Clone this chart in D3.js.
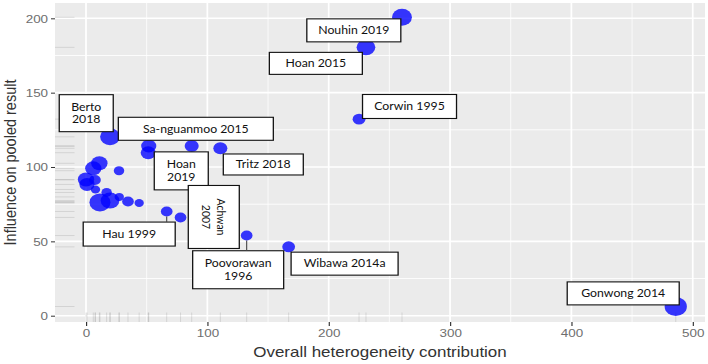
<!DOCTYPE html>
<html><head><meta charset="utf-8">
<script src="https://cdn.jsdelivr.net/npm/d3@7"></script>
<style>body{margin:0;background:#fff}svg{display:block}</style>
</head><body>
<script>
// ---- data ----
const studies = ["Nouhin 2019","Hoan 2015","Corwin 1995","Berto 2018","Sa-nguanmoo 2015","","Hoan 2019","Tritz 2018",
  "","","","","","","","","","","","","","Hau 1999","Achwan 2007","Poovorawan 1996","Wibawa 2014a","Gonwong 2014"];
const heterogeneity = [260.4,230.7,225.0,19.8,51.7,51.3,87.1,110.7,
  6.0,11.0,27.2,0.0,0.8,7.4,7.8,17.0,11.5,19.8,27.4,34.6,43.8,66.5,77.9,132.4,167.0,486.0];
const influence = [200.7,180.5,132.2,120.3,114.1,109.6,114.1,112.6,
  99.1,102.5,97.5,91.6,88.3,91.3,84.9,82.9,76.2,77.4,79.9,76.8,75.8,70.1,66.1,53.9,46.3,6.2];
const weight = [72,64,30,72,42,42,36,36,
  49,49,20,49,42,25,16,20,81,64,16,25,16,25,25,25,30,90];
const xTicks = [0,100,200,300,400,500];
const yTicks = [0,50,100,150,200];
const xMinor = [50,150,250,350,450];
const yMinor = [25,75,125,175];

// ---- label layout (annotation placement) ----
const labelLayout = [
  {name:"Nouhin 2019", lines:["Nouhin 2019"], cx:220.7, cy:191.9, w:94, h:23},
  {name:"Hoan 2015", lines:["Hoan 2015"], cx:189.4, cy:169.7, w:93, h:22},
  {name:"Corwin 1995", lines:["Corwin 1995"], cx:266.6, cy:140.7, w:94, h:24},
  {name:"Berto 2018", lines:["Berto","2018"], cx:0.2, cy:136.2, w:54, h:37},
  {name:"Sa-nguanmoo 2015", lines:["Sa-nguanmoo 2015"], cx:90.5, cy:125.7, w:155, h:23},
  {name:"Hoan 2019", lines:["Hoan","2019"], cx:78.5, cy:97.4, w:54, h:38},
  {name:"Tritz 2018", lines:["Tritz 2018"], cx:146.1, cy:101.7, w:80, h:21},
  {name:"Achwan 2007", lines:["Achwan","2007"], cx:105.3, cy:66.4, w:51, h:63, rot:true},
  {name:"Hau 1999", lines:["Hau 1999"], cx:35.6, cy:54.9, w:92, h:24},
  {name:"Poovorawan 1996", lines:["Poovorawan","1996"], cx:125.4, cy:30.9, w:91, h:38},
  {name:"Wibawa 2014a", lines:["Wibawa 2014a"], cx:213.1, cy:35.0, w:107, h:23},
  {name:"Gonwong 2014", lines:["Gonwong 2014"], cx:442.7, cy:15.0, w:112, h:23}
];

// ---- chart ----
const W=708, H=364, S=1.17;
const svg=d3.select("body").append("svg").attr("width",W).attr("height",H);
const g=svg.append("g").attr("transform",`scale(${S},1)`);
const L=55/S, R=705/S, T=3, B=322;
const x=d3.scaleLinear().domain([-25.55,510.1]).range([L,R]);
const y=d3.scaleLinear().domain([-4.24,210.3]).range([B,T]);
const r=d3.scaleSqrt().domain([0,100]).range([0,10]);

g.append("rect").attr("x",L).attr("y",T).attr("width",R-L).attr("height",B-T).attr("fill","#ebebeb");
g.selectAll(".xmin").data(xMinor).join("line").attr("x1",d=>x(d)).attr("x2",d=>x(d)).attr("y1",T).attr("y2",B)
  .attr("stroke","#fff").attr("stroke-width",0.7);
g.selectAll(".ymin").data(yMinor).join("line").attr("x1",L).attr("x2",R).attr("y1",d=>y(d)).attr("y2",d=>y(d))
  .attr("stroke","#fff").attr("stroke-width",0.8);
g.selectAll(".xmaj").data(xTicks).join("line").attr("x1",d=>x(d)).attr("x2",d=>x(d)).attr("y1",T).attr("y2",B)
  .attr("stroke","#fff").attr("stroke-width",1.5);
g.selectAll(".ymaj").data(yTicks).join("line").attr("x1",L).attr("x2",R).attr("y1",d=>y(d)).attr("y2",d=>y(d))
  .attr("stroke","#fff").attr("stroke-width",1.6);

const pts = studies.map((s,i)=>({name:s, x:heterogeneity[i], y:influence[i], w:weight[i]}));

// rugs
const rugX=0.03*(R-L), rugY=0.03*(B-T);
g.selectAll(".rugy").data(pts).join("line").attr("x1",L).attr("x2",L+rugX)
  .attr("y1",d=>y(d.y)).attr("y2",d=>y(d.y)).attr("stroke","rgba(0,0,0,0.1)").attr("stroke-width",1);
g.selectAll(".rugx").data(pts).join("line").attr("y1",B).attr("y2",B-rugY)
  .attr("x1",d=>x(d.x)).attr("x2",d=>x(d.x)).attr("stroke","rgba(0,0,0,0.1)").attr("stroke-width",0.9);

// points
g.selectAll(".pt").data(pts).join("circle").attr("cx",d=>x(d.x)).attr("cy",d=>y(d.y)).attr("r",d=>r(d.w))
  .attr("fill","#0000ff").attr("fill-opacity",0.78);

// connectors (screen space)
const byName = Object.fromEntries(pts.filter(p=>p.name).map(p=>[p.name,p]));
labelLayout.forEach(l=>{
  const p=byName[l.name];
  const px=S*x(p.x), py=y(p.y), rr=r(p.w);
  const bx=S*x(l.cx), by=y(l.cy);
  const qx=Math.max(bx-l.w/2, Math.min(px, bx+l.w/2));
  const qy=Math.max(by-l.h/2, Math.min(py, by+l.h/2));
  const d=Math.hypot(qx-px,qy-py);
  if(d-rr>4){
    const ux=(qx-px)/d, uy=(qy-py)/d;
    svg.append("line").attr("x1",px+ux*rr).attr("y1",py+uy*rr).attr("x2",qx).attr("y2",qy)
      .attr("stroke","#444").attr("stroke-width",1.1);
  }
});

// labels
const lg=g.append("g");
labelLayout.forEach(l=>{
  const cx=x(l.cx), cy=y(l.cy), w=l.w/S, h=l.h;
  lg.append("rect").attr("x",cx-w/2).attr("y",cy-h/2).attr("width",w).attr("height",h)
    .attr("fill","#fff").attr("stroke","#111").attr("stroke-width",1.1);
  const t=lg.append("text").attr("font-family","Lato, 'Open Sans', sans-serif").attr("font-size",10.5)
    .attr("fill","#111").attr("text-anchor","middle");
  const lh=12.7, n=l.lines.length;
  if(l.rot){
    t.attr("transform",`translate(${cx},${cy}) rotate(90)`);
    l.lines.forEach((s,i)=>t.append("tspan").attr("x",0).attr("y",(i-(n-1)/2)*lh+3.8).text(s));
  } else {
    l.lines.forEach((s,i)=>t.append("tspan").attr("x",cx).attr("y",cy+(i-(n-1)/2)*lh+3.8).text(s));
  }
});

// axes
const axFont="'Liberation Sans', Arial, sans-serif";
const yAx=g.append("g").attr("transform",`translate(${L},0)`).call(d3.axisLeft(y).tickValues(yTicks).tickSize(4/S).tickPadding(2.5));
const xAx=g.append("g").attr("transform",`translate(0,${B})`).call(d3.axisBottom(x).tickValues(xTicks).tickSize(4).tickPadding(3));
[yAx,xAx].forEach(a=>{
  a.select(".domain").remove();
  a.selectAll(".tick line").attr("stroke","#333").attr("stroke-width",1);
  a.selectAll(".tick text").attr("fill","#6e6e6e").attr("font-family",axFont).attr("font-size",11.5);
});

g.append("text").attr("x",(L+R)/2).attr("y",357.5).attr("text-anchor","middle")
  .attr("font-family",axFont).attr("font-size",14.5).attr("fill","#333").text("Overall heterogeneity contribution");
g.append("text").attr("transform",`translate(${16/S},${(T+B)/2}) rotate(-90)`).attr("text-anchor","middle")
  .attr("font-family",axFont).attr("font-size",14.5).attr("fill","#333").text("Influence on pooled result");
</script>
</body></html>
